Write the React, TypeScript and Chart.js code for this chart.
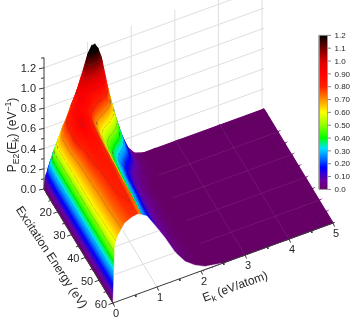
import React, { useEffect, useRef } from "react";
import { Chart, registerables } from "chart.js";

Chart.register(...registerables);

const W = 350;
const H = 317;

const ekGrid = [0, 0.03, 0.08, 0.15, 0.25, 0.4, 0.55, 0.7, 0.85, 1.0, 1.08, 1.15, 1.22, 1.3, 1.45, 1.6, 1.75, 1.9, 2.05, 2.25, 2.5, 3, 4, 5];
const eGrid = [10, 12, 14, 16, 18, 20, 25, 30, 35, 40, 45, 50, 55, 60];

const p10 = [0, 0.1, 0.17, 0.24, 0.33, 0.47, 0.62, 0.8, 0.98, 1.18, 1.24, 1.25, 1.2, 1.1, 0.77, 0.49, 0.27, 0.11, 0.03, 0, 0, 0, 0, 0];
const p12 = [0, 0.22, 0.3, 0.38, 0.48, 0.62, 0.78, 0.92, 1.0, 1.04, 1.04, 1.02, 0.97, 0.9, 0.7, 0.45, 0.25, 0.1, 0.03, 0, 0, 0, 0, 0];
const p14 = [0, 0.34, 0.41, 0.47, 0.58, 0.72, 0.84, 0.91, 0.9, 0.86, 0.84, 0.82, 0.8, 0.78, 0.62, 0.4, 0.22, 0.09, 0.02, 0, 0, 0, 0, 0];
const p16 = [0, 0.46, 0.54, 0.62, 0.72, 0.84, 0.89, 0.9, 0.87, 0.78, 0.75, 0.72, 0.67, 0.62, 0.48, 0.32, 0.17, 0.07, 0.02, 0, 0, 0, 0, 0];
const p18 = [0, 0.58, 0.64, 0.7, 0.79, 0.87, 0.89, 0.87, 0.78, 0.66, 0.61, 0.56, 0.5, 0.44, 0.31, 0.19, 0.1, 0.04, 0.01, 0, 0, 0, 0, 0];
const p20 = [0, 0.62, 0.68, 0.74, 0.82, 0.89, 0.89, 0.85, 0.73, 0.6, 0.53, 0.47, 0.41, 0.35, 0.24, 0.14, 0.07, 0.03, 0.01, 0, 0, 0, 0, 0];
const p25 = [0, 0.62, 0.68, 0.75, 0.86, 0.91, 0.88, 0.81, 0.69, 0.55, 0.48, 0.42, 0.36, 0.31, 0.2, 0.11, 0.05, 0.02, 0, 0, 0, 0, 0, 0];
const p30 = [0, 0.61, 0.66, 0.72, 0.79, 0.86, 0.86, 0.79, 0.67, 0.53, 0.46, 0.4, 0.34, 0.29, 0.19, 0.1, 0.05, 0.02, 0, 0, 0, 0, 0, 0];
const p35 = [0, 0.6, 0.65, 0.71, 0.78, 0.84, 0.84, 0.78, 0.65, 0.51, 0.44, 0.38, 0.32, 0.27, 0.17, 0.09, 0.04, 0.015, 0, 0, 0, 0, 0, 0];
const p40 = [0, 0.6, 0.64, 0.7, 0.76, 0.82, 0.83, 0.77, 0.63, 0.49, 0.42, 0.36, 0.3, 0.25, 0.16, 0.08, 0.04, 0.01, 0, 0, 0, 0, 0, 0];
const p45 = [0, 0.6, 0.64, 0.69, 0.75, 0.81, 0.82, 0.75, 0.6, 0.46, 0.39, 0.33, 0.27, 0.22, 0.14, 0.07, 0.03, 0.01, 0, 0, 0, 0, 0, 0];
const p50 = [0, 0.59, 0.63, 0.69, 0.75, 0.8, 0.81, 0.74, 0.58, 0.44, 0.37, 0.31, 0.25, 0.2, 0.12, 0.06, 0.03, 0.01, 0, 0, 0, 0, 0, 0];
const p55 = [0, 0.58, 0.62, 0.68, 0.74, 0.79, 0.8, 0.72, 0.56, 0.42, 0.35, 0.29, 0.24, 0.19, 0.11, 0.05, 0.02, 0.01, 0, 0, 0, 0, 0, 0];
const p60 = [0, 0.56, 0.61, 0.67, 0.73, 0.78, 0.79, 0.7, 0.54, 0.4, 0.33, 0.27, 0.22, 0.17, 0.1, 0.05, 0.02, 0.01, 0, 0, 0, 0, 0, 0];
const surface = [p10, p12, p14, p16, p18, p20, p25, p30, p35, p40, p45, p50, p55, p60];

// open underside seen through the front of the surface, at E = 60
const archEk = [0, 0.045, 0.114, 0.27, 0.43, 0.57, 0.77, 0.95, 1.18, 1.41, 1.64, 1.86, 2.09, 2.48];
const archP = [0, 0.57, 0.65, 0.75, 0.78, 0.79, 0.74, 0.62, 0.46, 0.28, 0.15, 0.08, 0.03, 0];

const contourLevels = [0.1, 0.2, 0.3, 0.4, 0.5, 0.6, 0.7, 0.8, 0.9, 1.0, 1.1, 1.2];
const zTicksMajor = [0, 0.2, 0.4, 0.6, 0.8, 1.0, 1.2];
const zTicksMinor = [0.1, 0.3, 0.5, 0.7, 0.9, 1.1, 1.3];
const zLabels = ["0.0", "0.2", "0.4", "0.6", "0.8", "1.0", "1.2"];
const eTicks = [20, 30, 40, 50, 60];
const eMinor = [15, 25, 35, 45, 55];
const ekTicks = [0, 1, 2, 3, 4, 5];
const ekMinor = [0.5, 1.5, 2.5, 3.5, 4.5];

const cbValues = [1.2, 1.1, 1.0, 0.9, 0.8, 0.7, 0.6, 0.5, 0.4, 0.3, 0.2, 0.1, 0.0];
const cbLabels = ["1.2", "1.1", "1.0", "0.90", "0.80", "0.70", "0.60", "0.50", "0.40", "0.30", "0.20", "0.10", "0.0"];

const cmapP = [0, 0.07, 0.17, 0.24, 0.32, 0.4, 0.5, 0.6, 0.7, 0.8, 0.9, 1.0, 1.1, 1.2];
const cmapC = ["#660066", "#6a00a0", "#0000ff", "#0070ff", "#00e0ff", "#00ff00", "#90ff00", "#ffff00", "#ff9000", "#ff2000", "#ff0000", "#d80000", "#700000", "#000000"];

const ORIGIN = { x: 44, y: 189 };
const EK_DX = 44;
const EK_DY = -16;
const E_DX = 1.38;
const E_DY = 2.28;
const Z_DY = -101;
const WALL_EK_DX = 43.6;

function proj(ek: number, e: number, p: number) {
  const t = e - 10;
  return { x: ORIGIN.x + ek * EK_DX + t * E_DX, y: ORIGIN.y + ek * EK_DY + t * E_DY + p * Z_DY };
}
function wall(ek: number, p: number) {
  return { x: ORIGIN.x + ek * WALL_EK_DX, y: ORIGIN.y + ek * EK_DY + p * Z_DY };
}

function colorAt(p: number) {
  const v = Math.max(0, Math.min(1.2, p));
  let i = 0;
  while (i < cmapP.length - 2 && v > cmapP[i + 1]) i++;
  const f = (v - cmapP[i]) / (cmapP[i + 1] - cmapP[i]);
  const a = cmapC[i];
  const b = cmapC[i + 1];
  const ch = (s: string, k: number) => parseInt(s.slice(1 + k * 2, 3 + k * 2), 16);
  const mix = (k: number) => Math.round(ch(a, k) + (ch(b, k) - ch(a, k)) * f);
  return `rgb(${mix(0)},${mix(1)},${mix(2)})`;
}

function gradientBetween(ctx: CanvasRenderingContext2D, ax: number, ay: number, bx: number, by: number) {
  const g = ctx.createLinearGradient(ax, ay, bx, by);
  cmapP.forEach((p, i) => g.addColorStop(p / 1.2, cmapC[i]));
  return g;
}

type Node = { x: number; y: number; p: number };

function triFill(ctx: CanvasRenderingContext2D, a: Node, b: Node, c: Node) {
  const det = (b.x - a.x) * (c.y - a.y) - (c.x - a.x) * (b.y - a.y);
  const mean = (a.p + b.p + c.p) / 3;
  if (Math.abs(det) < 0.3 || (Math.abs(a.p - b.p) < 1e-6 && Math.abs(a.p - c.p) < 1e-6)) return colorAt(mean);
  const gx = ((b.p - a.p) * (c.y - a.y) - (c.p - a.p) * (b.y - a.y)) / det;
  const gy = ((c.p - a.p) * (b.x - a.x) - (b.p - a.p) * (c.x - a.x)) / det;
  const n = gx * gx + gy * gy;
  if (n < 1e-10) return colorAt(mean);
  return gradientBetween(ctx, a.x + (gx * (0 - a.p)) / n, a.y + (gy * (0 - a.p)) / n, a.x + (gx * (1.2 - a.p)) / n, a.y + (gy * (1.2 - a.p)) / n);
}

function contourSegs(a: Node, b: Node, c: Node, out: any[]) {
  const det = (b.x - a.x) * (c.y - a.y) - (c.x - a.x) * (b.y - a.y);
  if (det < 0.2) return;
  for (const lv of contourLevels) {
    const pts: { x: number; y: number }[] = [];
    const edge = (u: Node, v: Node) => {
      if ((u.p < lv && v.p >= lv) || (u.p >= lv && v.p < lv)) {
        const f = (lv - u.p) / (v.p - u.p);
        pts.push({ x: u.x + (v.x - u.x) * f, y: u.y + (v.y - u.y) * f });
      }
    };
    edge(a, b);
    edge(b, c);
    edge(c, a);
    if (pts.length === 2) out.push(pts[0], pts[1], { x: NaN, y: NaN });
  }
}

const lineDs = (data: any[], color: string, width: number) => ({
  data,
  borderColor: color,
  backgroundColor: color,
  borderWidth: width,
  showLine: true,
  pointRadius: 0,
  tension: 0,
  fill: false,
  spanGaps: false,
});

function seg(a: { x: number; y: number }, b: { x: number; y: number }) {
  return [a, b, { x: NaN, y: NaN }];
}

function buildDatasets(ctx: CanvasRenderingContext2D) {
  const ds: any[] = [];
  const grid = "#dedede";

  // back wall grid
  const wallLines: any[] = [];
  zTicksMajor.slice(1).forEach((p) => wallLines.push(...seg(wall(0, p), proj(5, 10, p))));
  ekTicks.slice(1).forEach((k) => wallLines.push(...seg(wall(k, 0), wall(k, 1.3))));
  ds.push(lineDs(wallLines, grid, 1));

  // surface, far to near
  for (let i = 0; i < eGrid.length - 1; i++) {
    const segs: any[] = [];
    for (let j = ekGrid.length - 2; j >= 0; j--) {
      const node = (r: number, c: number): Node => ({ ...proj(ekGrid[c], eGrid[r], surface[r][c]), p: surface[r][c] });
      const A = node(i, j);
      const B = node(i, j + 1);
      const C = node(i + 1, j);
      const D = node(i + 1, j + 1);
      const tris: [Node, Node, Node][] = [
        [B, D, C],
        [A, B, C],
      ];
      for (const [a, b, c] of tris) {
        const fillStyle = triFill(ctx, a, b, c);
        ds.push({
          data: [a, b, c, a].map((n) => ({ x: n.x, y: n.y })),
          showLine: true,
          pointRadius: 0,
          tension: 0,
          fill: "shape",
          backgroundColor: fillStyle,
          borderColor: fillStyle,
          borderWidth: 1.2,
        });
        contourSegs(a, b, c, segs);
      }
    }
    if (segs.length) ds.push(lineDs(segs, "rgba(70,70,70,0.42)", 0.6));
  }

  // faint floor lines over the flat part
  const flat: any[] = [];
  [20, 30, 40, 50].forEach((e) => flat.push(...seg(proj(2.3, e, 0), proj(5, e, 0))));
  [3, 4].forEach((k) => flat.push(...seg(proj(k, 10, 0), proj(k, 60, 0))));
  ds.push(lineDs(flat, "rgba(255,255,255,0.1)", 0.8));
  const inner = [proj(3.6, 12.5, 0), proj(4.75, 12.5, 0), proj(4.75, 60, 0)];
  ds.push(lineDs(inner, "rgba(30,30,30,0.25)", 0.8));

  // white opening at the front
  const archPts = archEk.map((k, i) => proj(k, 60, archP[i]));
  ds.push({
    data: [...archPts, proj(archEk[0], 60, 0)],
    showLine: true,
    pointRadius: 0,
    tension: 0,
    fill: "shape",
    backgroundColor: "#ffffff",
    borderColor: "#ffffff",
    borderWidth: 0.5,
  });

  // floor grid visible through the opening
  const floor: any[] = [];
  floor.push(...seg(proj(0.36, 50, 0), proj(1.75, 50, 0)));
  floor.push(...seg(proj(0.67, 40, 0), proj(1.68, 40, 0)));
  floor.push(...seg(proj(1, 35, 0), proj(1, 60, 0)));
  ds.push(lineDs(floor, grid, 1));

  // axes
  const axisC = "#3a3a3a";
  const axes: any[] = [];
  axes.push(...seg(proj(0, 10, 0), proj(0, 10, 1.3)));
  axes.push(...seg(proj(0, 10, 0), proj(0, 60, 0)));
  axes.push(...seg(proj(0, 60, 0), proj(5.04, 60, 0)));
  zTicksMajor.forEach((p) => {
    const a = proj(0, 10, p);
    axes.push(...seg(a, { x: a.x - 5, y: a.y + 1 }));
  });
  zTicksMinor.forEach((p) => {
    const a = proj(0, 10, p);
    axes.push(...seg(a, { x: a.x - 3, y: a.y + 0.5 }));
  });
  eTicks.forEach((e) => {
    const a = proj(0, e, 0);
    axes.push(...seg(a, { x: a.x - 4.5, y: a.y + 1.6 }));
  });
  eMinor.forEach((e) => {
    const a = proj(0, e, 0);
    axes.push(...seg(a, { x: a.x - 2.5, y: a.y + 0.9 }));
  });
  ekTicks.forEach((k) => {
    const a = proj(k, 60, 0);
    axes.push(...seg(a, { x: a.x + 1.6, y: a.y + 3.6 }));
  });
  ekMinor.forEach((k) => {
    const a = proj(k, 60, 0);
    axes.push(...seg(a, { x: a.x + 0.9, y: a.y + 2 }));
  });
  ds.push(lineDs(axes, axisC, 1));

  // colour bar
  const cbY = (v: number) => 189.4 - v * 128.4;
  const cbL = 319;
  const cbR = 327.5;
  const cbFill = gradientBetween(ctx, 0, cbY(0), 0, cbY(1.2));
  ds.push({
    data: [
      { x: cbL, y: cbY(0) },
      { x: cbR, y: cbY(0) },
      { x: cbR, y: cbY(1.2) },
      { x: cbL, y: cbY(1.2) },
      { x: cbL, y: cbY(0) },
    ],
    showLine: true,
    pointRadius: 0,
    tension: 0,
    fill: "shape",
    backgroundColor: cbFill,
    borderColor: "#9a9a9a",
    borderWidth: 0.8,
  });
  const cbTicks: any[] = [];
  cbValues.forEach((v) => cbTicks.push(...seg({ x: cbR, y: cbY(v) }, { x: cbR + 3.5, y: cbY(v) })));
  ds.push(lineDs(cbTicks, "#777777", 0.9));

  return ds.reverse();
}

function richText(ctx: CanvasRenderingContext2D, parts: { t: string; s?: "sub" | "sup" }[], cx: number, cy: number, rot: number, size: number) {
  const fontOf = (s?: string) => `${s ? size * 0.72 : size}px "Liberation Sans", Arial, sans-serif`;
  let width = 0;
  parts.forEach((q) => {
    ctx.font = fontOf(q.s);
    width += ctx.measureText(q.t).width;
  });
  ctx.save();
  ctx.translate(cx, cy);
  ctx.rotate(rot);
  ctx.textBaseline = "alphabetic";
  ctx.textAlign = "left";
  ctx.fillStyle = "#262626";
  let x = -width / 2;
  parts.forEach((q) => {
    ctx.font = fontOf(q.s);
    const dy = q.s === "sub" ? size * 0.6 : q.s === "sup" ? -size * 0.05 : size * 0.36;
    ctx.fillText(q.t, x, dy);
    x += ctx.measureText(q.t).width;
  });
  ctx.restore();
}

const textPlugin = {
  id: "surfaceText",
  afterDraw(chart: any) {
    const ctx = chart.ctx as CanvasRenderingContext2D;
    ctx.save();
    ctx.fillStyle = "#262626";
    ctx.font = '11px "Liberation Sans", Arial, sans-serif';
    ctx.textAlign = "right";
    ctx.textBaseline = "middle";
    zTicksMajor.forEach((p, i) => {
      const a = proj(0, 10, p);
      ctx.fillText(zLabels[i], a.x - 8, a.y + 1);
    });
    eTicks.forEach((e) => {
      const a = proj(0, e, 0);
      ctx.fillText(String(e), a.x - 6, a.y + 1.5);
    });
    ctx.textAlign = "center";
    ekTicks.forEach((k) => {
      const a = proj(k, 60, 0);
      ctx.fillText(String(k), a.x + 3, a.y + 11);
    });
    ctx.textAlign = "left";
    ctx.font = '8px "Liberation Sans", Arial, sans-serif';
    cbValues.forEach((v, i) => {
      ctx.fillText(cbLabels[i], 334.5, 189.4 - v * 128.4 + 0.5);
    });
    ctx.restore();
    richText(ctx, [{ t: "P" }, { t: "E2", s: "sub" }, { t: "(E" }, { t: "k", s: "sub" }, { t: ") (eV" }, { t: "−1", s: "sup" }, { t: ")" }], 12, 135, -Math.PI / 2, 12);
    richText(ctx, [{ t: "Excitation Energy (eV)" }], 52, 257, (56.5 * Math.PI) / 180, 12);
    richText(ctx, [{ t: "E" }, { t: "k", s: "sub" }, { t: " (eV/atom)" }], 235, 286, (-20 * Math.PI) / 180, 12);
  },
};

export default function App() {
  const ref = useRef<HTMLCanvasElement>(null);
  useEffect(() => {
    const canvas = ref.current!;
    const ctx = canvas.getContext("2d")!;
    const chart = new Chart(ctx, {
      type: "scatter",
      data: { datasets: buildDatasets(ctx) },
      options: {
        animation: false,
        responsive: false,
        events: [],
        layout: { padding: 0 },
        plugins: { legend: { display: false }, tooltip: { enabled: false }, colors: { enabled: false } } as any,
        scales: {
          x: { type: "linear", min: 0, max: W, display: false },
          y: { type: "linear", min: 0, max: H, reverse: true, display: false },
        },
      },
      plugins: [textPlugin],
    });
    return () => chart.destroy();
  }, []);
  return <canvas ref={ref} width={W} height={H} style={{ position: "absolute", left: 0, top: 0, width: W, height: H, display: "block", filter: "blur(0.4px)" }} />;
}
